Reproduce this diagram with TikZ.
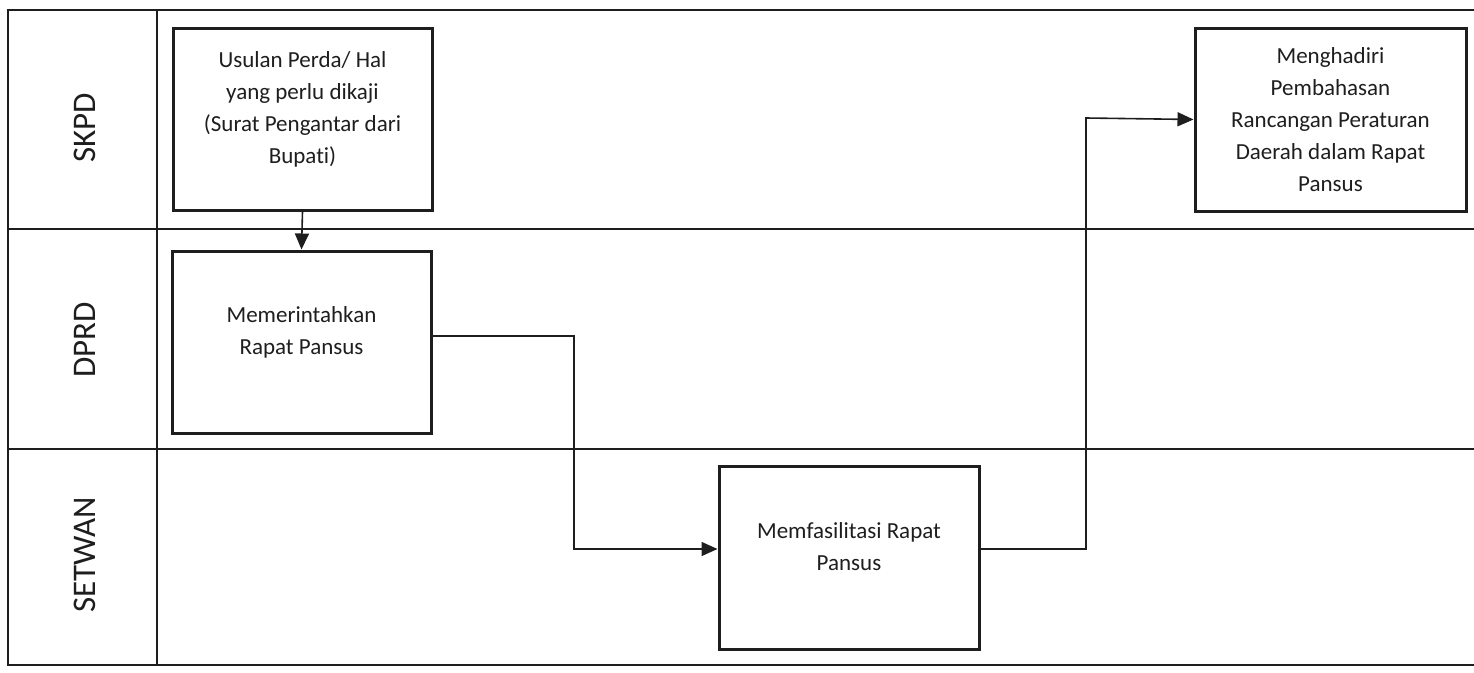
\documentclass[tikz,border=0pt]{standalone}
\usepackage{fontspec}
\setmainfont{Carlito}[Ligatures=NoCommon, RawFeature={-liga;-clig;-calt;-dlig}]
\usetikzlibrary{arrows.meta}
\definecolor{ink}{HTML}{1E1E1E}
\begin{document}
\begin{tikzpicture}[x=1pt,y=-1pt,
  lane/.style={draw=ink, line width=1.5pt},
  procbox/.style={draw=ink, line width=3pt, minimum width=259pt, minimum height=182pt, inner sep=0pt},
  boxtext/.style={text=ink, align=center, font=\fontsize{23}{32}\selectfont, inner sep=0pt},
  lanelabel/.style={text=ink, rotate=90, font=\fontsize{33}{40}\selectfont, inner sep=0pt},
  flow/.style={draw=ink, line width=1.6pt, -{Triangle[length=16pt,width=14pt]}}]
\useasboundingbox (0,0) rectangle (1474,672);

% swimlane frame, open on the right
\draw[lane] (1474,10) -- (8,10) -- (8,665) -- (1474,665);
\draw[lane] (8,229) -- (1474,229);
\draw[lane] (8,449) -- (1474,449);
\draw[lane] (157,10) -- (157,665);

% lane titles
\node[lanelabel] (skpd) at (85,128) {SKPD};
\node[lanelabel] (dprd) at (85,340) {DPRD};
\node[lanelabel] (setwan) at (85,555) {SETWAN};

% process boxes
\node[procbox] (usulan) at (302.5,119) {};
\node[boxtext] (usulan-t) at ([yshift=10pt]usulan.center) {Usulan Perda/ Hal\\yang perlu dikaji\\(Surat Pengantar dari\\Bupat\kern0pt i)};

\node[procbox] (perintah) at (301.5,342) {};
\node[boxtext] (perintah-t) at ([yshift=10pt]perintah.center) {Memerintahkan\\Rapat Pansus};

\node[procbox, minimum width=260pt, minimum height=183pt] (fasilitas) at (849,557.5) {};
\node[boxtext] (fasilitas-t) at ([yshift=11pt]fasilitas.center) {Memfasilitasi Rapat\\Pansus};

\node[procbox, minimum width=271pt, minimum height=183pt] (hadir) at (1330.5,119.5) {};
\node[boxtext] (hadir-t) at (hadir.center) {Menghadiri\\Pembahasan\\Rancangan Peraturan\\Daerah dalam Rapat\\Pansus};

% connectors
\coordinate (bendA) at (574,549);
\coordinate (bendB) at (1086,118);
\draw[flow] (usulan.south) -- (perintah.north);
\draw[flow] ([yshift=6pt]perintah.east) -| (bendA) -- ([yshift=8.5pt]fasilitas.west);
\draw[flow] ([yshift=8.5pt]fasilitas.east) -| (bendB) -- (hadir.west);
\end{tikzpicture}
\end{document}
